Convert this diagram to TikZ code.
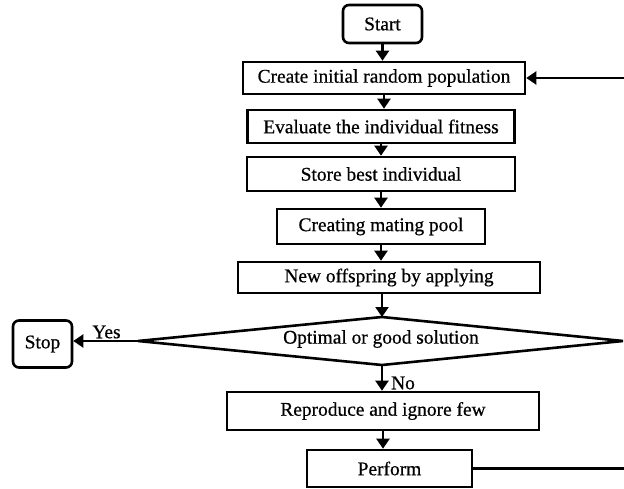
\documentclass[tikz,border=0pt]{standalone}
\usepackage{fontspec}
\setmainfont{Liberation Serif}[FakeBold=0.6]
\usetikzlibrary{arrows.meta}
\tikzset{
  txt/.style={font=\fontsize{19.4}{22}\selectfont},
  box/.style={draw, line width=2.6pt, inner sep=0pt, txt},
  term/.style={box, rounded corners=6pt},
  outline/.style={line width=2.6pt, line join=miter},
  flow/.style={line width=2.2pt, -{Triangle[length=10pt,width=13pt]}},
  plain/.style={line width=2.2pt},
}
\begin{document}
\begin{tikzpicture}[x=1pt,y=-1pt]
\useasboundingbox (0,0) rectangle (624,489);
\node[term, minimum width=79pt, minimum height=38pt] (start) at (382.5,24) {Start};
\node[box, minimum width=282pt, minimum height=32pt] (create) at (384,78) {Create initial random population};
\node[box, minimum width=267pt, minimum height=33pt] (eval) at (381,126.5) {Evaluate the individual fitness};
\node[box, minimum width=268pt, minimum height=34pt] (store) at (381,174) {Store best individual};
\node[box, minimum width=208pt, minimum height=35pt] (mating) at (381,226.5) {Creating mating pool};
\node[box, minimum width=302pt, minimum height=31pt] (offspring) at (389,277.5) {New offspring by applying};
% decision diamond
\coordinate (dN) at (382,317);
\coordinate (dE) at (623,341);
\coordinate (dS) at (382,365);
\coordinate (dW) at (138,341);
\draw[outline] (dN) -- (dE) -- (dS) -- (dW) -- cycle;
\node[txt, inner sep=0pt] (dec) at (381,339) {Optimal or good solution};
\node[term, minimum width=59pt, minimum height=47pt] (stop) at (42.5,344) {Stop};
\node[box, minimum width=312pt, minimum height=38pt] (repro) at (383,411) {Reproduce and ignore few};
\node[box, minimum width=165pt, minimum height=37pt] (perform) at (389.5,468.5) {Perform};
\node[txt, inner sep=0pt] (yes) at (106.5,332) {Yes};
\node[txt, inner sep=0pt] (no) at (403,383) {No};
\coordinate (edgeA) at (624,78);
\coordinate (edgeB) at (624,468.5);

\draw[flow] (start.south) -- (start.south |- create.north);
\draw[flow] (create.south) -- (create.south |- eval.north);
\draw[flow] (eval.south) -- (eval.south |- store.north);
\draw[flow] (store.south) -- (store.south |- mating.north);
\draw[flow] (mating.south) -- (mating.south |- offspring.north);
\draw[flow] (dN |- offspring.south) -- (dN);
\draw[flow] (dS) -- (dS |- repro.north);
\draw[flow] (repro.south) -- (repro.south |- perform.north);
\draw[flow] (dW) -- (dW -| stop.east);
\draw[plain] (perform.east) -- (edgeB);
\draw[flow] (edgeA) -- (create.east);
\end{tikzpicture}
\end{document}
